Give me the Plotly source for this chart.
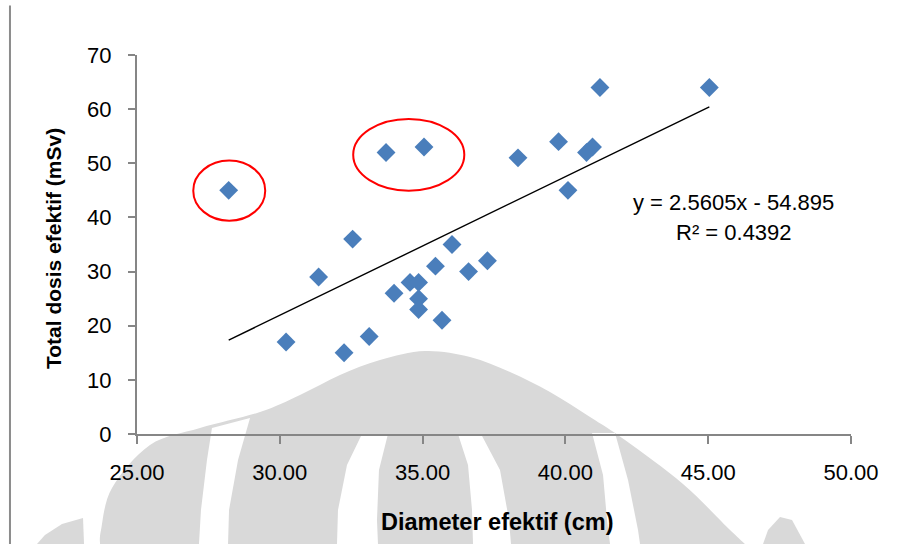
import plotly.graph_objects as go

# ---- data ----
diameter = [28.21, 30.22, 31.36, 32.25, 33.13, 32.55, 34.00, 34.56, 34.86, 35.45,
            34.86, 34.86, 35.68, 36.03, 36.61, 37.27, 33.72, 35.05, 41.21, 45.04,
            39.76, 38.34, 40.95, 40.74, 40.09]
dose = [45, 17, 29, 15, 18, 36, 26, 28, 28, 31,
        25, 23, 21, 35, 30, 32, 52, 53, 64, 64,
        54, 51, 53, 52, 45]
slope = 2.5605
intercept = -54.895
r2 = 0.4392
x_ticks = [25, 30, 35, 40, 45, 50]
y_ticks = [0, 10, 20, 30, 40, 50, 60, 70]

# ---- layout geometry (pixels) ----
L, T, W, H = 137, 55, 714, 379

def pp(x, y):
    return ((x - L) / W, (T + H - y) / H)

def poly_path(pts, closed=True):
    P = [pp(x, y) for x, y in pts]
    s = " ".join(("M" if i == 0 else "L") + f"{a:.4f},{b:.4f}" for i, (a, b) in enumerate(P))
    return s + (" Z" if closed else "")

def smooth_path(pts):
    """Catmull-Rom spline through pixel points -> SVG path in paper coords."""
    P = [pp(x, y) for x, y in pts]
    n = len(P)
    s = f"M{P[0][0]:.4f},{P[0][1]:.4f} "
    for i in range(n - 1):
        p0 = P[i - 1] if i > 0 else P[i]
        p1, p2 = P[i], P[i + 1]
        p3 = P[i + 2] if i + 2 < n else P[i + 1]
        c1 = (p1[0] + (p2[0] - p0[0]) / 6, p1[1] + (p2[1] - p0[1]) / 6)
        c2 = (p2[0] - (p3[0] - p1[0]) / 6, p2[1] - (p3[1] - p1[1]) / 6)
        s += f"C{c1[0]:.4f},{c1[1]:.4f} {c2[0]:.4f},{c2[1]:.4f} {p2[0]:.4f},{p2[1]:.4f} "
    return s + "Z"

FONT = "Liberation Sans, Arial, sans-serif"

fig = go.Figure()

xs = [min(diameter), max(diameter)]
fig.add_trace(go.Scatter(x=xs, y=[slope * v + intercept for v in xs], mode="lines",
                         line=dict(color="black", width=1.4), hoverinfo="skip",
                         showlegend=False))
fig.add_trace(go.Scatter(x=diameter, y=dose, mode="markers",
                         marker=dict(symbol="diamond", size=14.5, color="#4A7EBB",
                                     line=dict(width=0)),
                         showlegend=False))

shapes = []
grey = "#d9d9d9"
B = 544  # bottom edge of the page
# watermark (approximate), kept inside the page
shapes.append(dict(type="path", xref="paper", yref="paper", layer="below", line_width=0,
                   fillcolor=grey,
                   path=smooth_path([(100, B), (101, 530), (112, 488), (150, 445), (200, 428),
                                     (260, 412), (300, 395), (340, 375), (380, 360), (425, 351),
                                     (470, 357), (510, 372), (550, 392), (590, 417), (625, 440),
                                     (683, 484), (728, 528), (745, B)])))
shapes.append(dict(type="path", xref="paper", yref="paper", layer="below", line_width=0,
                   fillcolor=grey,
                   path=poly_path([(37, B), (45, 535), (62, 524), (83, 518), (84, B)])))
shapes.append(dict(type="path", xref="paper", yref="paper", layer="below", line_width=0,
                   fillcolor=grey,
                   path=poly_path([(763, B), (768, 530), (780, 517), (792, 520), (805, B)])))
for band in [
    [(212, 428), (250, 418), (238, 460), (229, 510), (228, B), (199, B), (201, 510), (207, 460)],
    [(362, 434), (388, 434), (379, 470), (377, 520), (378, B), (337, B), (338, 510), (347, 465)],
    [(458, 434), (481, 434), (500, 470), (509, 520), (511, B), (473, B), (472, 510), (468, 465)],
    [(592, 433), (615, 433), (628, 480), (638, 530), (640, B), (610, B), (607, 520), (603, 475)],
]:
    shapes.append(dict(type="path", xref="paper", yref="paper", layer="below", line_width=0,
                       fillcolor="white", path=poly_path(band)))

# outer chart border: left edge only (test)
shapes.append(dict(type="path", xref="paper", yref="paper", layer="above",
                   fillcolor="rgba(0,0,0,0)", line=dict(color="#8c8c8c", width=2),
                   path=poly_path([(10, B), (10, 5.5)], closed=False)))

# red ellipses
shapes.append(dict(type="circle", xref="x", yref="y", x0=26.97, x1=29.49, y0=39.4, y1=50.5,
                   line=dict(color="#FF0000", width=2)))
shapes.append(dict(type="circle", xref="x", yref="y", x0=32.57, x1=36.46, y0=44.95, y1=58.2,
                   line=dict(color="#FF0000", width=2)))

annotations = [
    dict(x=45.9, y=42.7, xref="x", yref="y", text=f"y = {slope}x - {abs(intercept)}",
         showarrow=False, font=dict(family=FONT, size=22, color="black"),
         xanchor="center", yanchor="middle"),
    dict(x=45.9, y=37.2, xref="x", yref="y", text=f"R² = {r2}",
         showarrow=False, font=dict(family=FONT, size=22, color="black"),
         xanchor="center", yanchor="middle"),
    dict(x=pp(497, 522)[0], y=pp(497, 522)[1], xref="paper", yref="paper",
         text="<b>Diameter efektif (cm)</b>", showarrow=False,
         font=dict(family=FONT, size=23.5, color="black"), xanchor="center", yanchor="middle"),
    dict(x=pp(53, 249)[0], y=pp(53, 249)[1], xref="paper", yref="paper",
         text="<b>Total dosis efektif (mSv)</b>", showarrow=False, textangle=-90,
         font=dict(family=FONT, size=21, color="black"), xanchor="center", yanchor="middle"),
]

fig.update_layout(
    width=900, height=544,
    margin=dict(l=L, r=900 - L - W, t=T, b=544 - T - H),
    paper_bgcolor="white", plot_bgcolor="rgba(0,0,0,0)",
    shapes=shapes, annotations=annotations, showlegend=False,
    xaxis=dict(range=[25, 50], tickvals=x_ticks, ticktext=[f"{v:.2f}" for v in x_ticks],
               showgrid=False, zeroline=False, showline=True, linecolor="#868686",
               linewidth=2, ticks="outside", ticklen=8, tickwidth=1.5, tickcolor="#868686",
               ticklabelstandoff=10,
               tickfont=dict(family=FONT, size=22, color="black")),
    yaxis=dict(range=[0, 70], tickvals=y_ticks, showgrid=False, zeroline=False,
               showline=True, linecolor="#868686", linewidth=2, ticks="outside",
               ticklen=7, tickwidth=1.5, tickcolor="#868686", ticklabelstandoff=12,
               tickfont=dict(family=FONT, size=22, color="black")),
)

fig.write_html("out.html")
